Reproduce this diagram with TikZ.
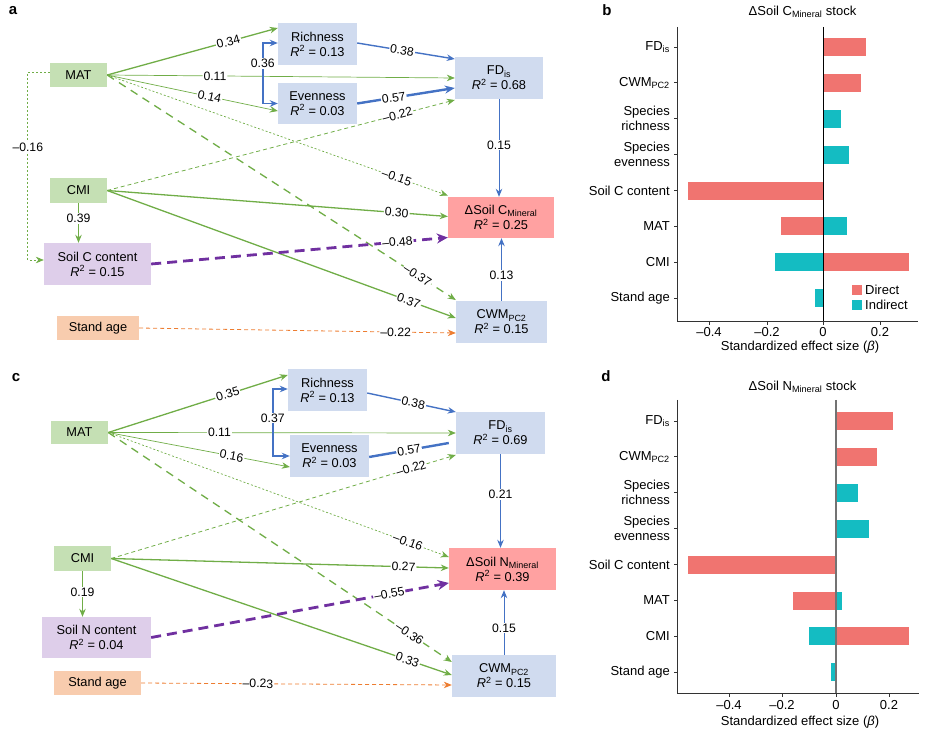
\documentclass[tikz,border=0pt]{standalone}
\usepackage{fontspec}
\usepackage{etoolbox}
\setmainfont{Liberation Sans}
\usetikzlibrary{arrows.meta,calc}
\definecolor{lgreen}{RGB}{112,173,71}
\definecolor{lblue}{RGB}{68,114,196}
\definecolor{lpurple}{RGB}{112,48,160}
\definecolor{lorange}{RGB}{237,125,49}
\definecolor{fgreen}{RGB}{197,224,180}
\definecolor{fblue}{RGB}{208,219,239}
\definecolor{fred}{RGB}{255,161,161}
\definecolor{fpurple}{RGB}{222,206,234}
\definecolor{forange}{RGB}{248,204,174}
\definecolor{bred}{RGB}{240,116,112}
\definecolor{bteal}{RGB}{20,188,194}
\newcommand\boxfnt{\fontsize{12.8}{15}\selectfont}
\newcommand\labfnt{\fontsize{12.2}{14}\selectfont}
\newcommand\barfnt{\fontsize{13}{15}\selectfont}
\newcommand\panfnt{\fontsize{15}{15}\selectfont\bfseries}
\newcommand\Rsq{\textit{R}\textsuperscript{2}}
\newcommand\lablist{}
% \edge[label style]{line style}{from}{to}{pos}{label}
\newcommand\edge[6][el]{\draw[#2] #3 -- #4;%
  \gappto\lablist{\path #3 -- #4 node[#1,pos=#5]{#6};}}
\tikzset{
  nbox/.style={inner sep=0pt, align=center, font=\boxfnt},
  gb/.style={nbox, fill=fgreen},
  bb/.style={nbox, fill=fblue},
  rb/.style={nbox, fill=fred},
  pb/.style={nbox, fill=fpurple},
  ob/.style={nbox, fill=forange},
  ar/.style={-{Stealth[length=8pt,width=6.5pt]}},
  gthick/.style={ar, draw=lgreen, line width=1.3pt},
  gthin/.style={ar, draw=lgreen, line width=0.7pt},
  gdot/.style={ar, draw=lgreen, line width=0.7pt, dash pattern=on 2pt off 2pt},
  gdash/.style={ar, draw=lgreen, line width=0.8pt, dash pattern=on 4pt off 3pt},
  gldash/.style={ar, draw=lgreen, line width=1.3pt, dash pattern=on 8pt off 6pt},
  pdash/.style={draw=lpurple, line width=2.8pt, dash pattern=on 10pt off 6pt, -{Stealth[length=11pt,width=10pt]}},
  odash/.style={ar, draw=lorange, line width=0.8pt, dash pattern=on 4pt off 3pt},
  bthin/.style={ar, draw=lblue, line width=0.9pt},
  bmed/.style={ar, draw=lblue, line width=1.4pt},
  bthick/.style={draw=lblue, line width=2.4pt, -{Stealth[length=10pt,width=8pt]}},
  bthickna/.style={draw=lblue, line width=2.4pt},
  el/.style={fill=white, inner sep=1pt, font=\labfnt, sloped},
  elh/.style={fill=white, inner sep=1pt, font=\labfnt},
  blab/.style={font=\barfnt, inner sep=0pt, anchor=east, align=right},
  tlab/.style={font=\barfnt, inner sep=0pt},
  axl/.style={draw=black!80, line width=0.9pt},
}
\begin{document}
\begin{tikzpicture}[x=1pt,y=-1pt]
\useasboundingbox (0,0) rectangle (930,735);

% ---------------- panel a ----------------
\node[font=\panfnt, inner sep=0pt] (La) at (13,11) {a};
\node[gb, minimum width=57pt, minimum height=24pt] (MATa) at (78.5,75) {MAT};
\node[gb, minimum width=57pt, minimum height=25pt] (CMIa) at (78.5,190.5) {CMI};
\node[pb, minimum width=107pt, minimum height=42pt] (SCa) at (97.5,264) {Soil C content\\\Rsq{} = 0.15};
\node[ob, minimum width=82pt, minimum height=24pt] (SAa) at (98,328) {Stand age};
\node[bb, minimum width=79pt, minimum height=42pt] (RIa) at (317.5,44) {Richness\\\Rsq{} = 0.13};
\node[bb, minimum width=79pt, minimum height=41pt] (EVa) at (317.5,103.5) {Evenness\\\Rsq{} = 0.03};
\node[bb, minimum width=88pt, minimum height=42pt] (FDa) at (499,78) {FD\textsubscript{is}\\\Rsq{} = 0.68};
\node[rb, minimum width=106pt, minimum height=41pt] (DSa) at (501,217.5) {ΔSoil C\textsubscript{Mineral}\\\Rsq{} = 0.25};
\node[bb, minimum width=91pt, minimum height=42pt] (CWa) at (501.5,322) {CWM\textsubscript{PC2}\\\Rsq{} = 0.15};

\edge{gthin}{(MATa.east)}{(FDa.west)}{0.31}{0.11}
\edge{gthin}{(MATa.east)}{([yshift=-7.5pt]EVa.west)}{0.6}{0.14}
\edge{gdot}{(MATa.east)}{([yshift=22pt]DSa.west)}{0.85}{--0.15}
\edge{gdash}{(CMIa.east)}{([yshift=-22pt]FDa.west)}{0.835}{--0.22}
\edge{gldash}{(MATa.east)}{([yshift=22pt]CWa.west)}{0.89}{--0.37}
\edge{gthick}{(CMIa.east)}{([yshift=1pt]DSa.west)}{0.85}{0.30}
\edge{gthick}{(CMIa.east)}{([yshift=4pt]CWa.west)}{0.865}{0.37}
\edge{pdash}{(SCa.east)}{([yshift=-20pt]DSa.west)}{0.83}{--0.48}
\edge{odash}{(SAa.east)}{([yshift=-11pt]CWa.west)}{0.81}{--0.22}
\edge{gthick}{(MATa.east)}{([yshift=16pt]RIa.west)}{0.71}{0.34}
\edge{bmed}{([yshift=1pt]RIa.east)}{([yshift=19pt]FDa.west)}{0.46}{0.38}
\edge{bthick}{(EVa.east)}{([yshift=-10pt]FDa.west)}{0.375}{0.57}
\edge[elh]{bthin}{(FDa.south)}{(FDa.south |- DSa.north)}{0.47}{0.15}
\edge[elh]{bthin}{(CWa.north)}{(CWa.north |- DSa.south)}{0.4}{0.13}
\edge[elh]{gthin, line width=1pt}{(CMIa.south)}{(CMIa.south |- SCa.north)}{0.38}{0.39}
\draw[draw=lblue, line width=1.4pt, {Stealth[length=8pt,width=6.5pt]}-{Stealth[length=8pt,width=6.5pt]}]
  ([yshift=1pt]RIa.west) -- ++(-15,0) |- (EVa.west) node[elh,pos=0.17]{0.36};
\draw[gdot] ([yshift=3pt]MATa.west) -- ++(-22,0) |- ([yshift=4pt]SCa.west) node[elh,pos=0.2]{--0.16};

% ---------------- panel c ----------------
\node[font=\panfnt, inner sep=0pt] (Lc) at (16,378) {c};
\node[gb, minimum width=57pt, minimum height=23pt] (MATc) at (79.5,432.5) {MAT};
\node[gb, minimum width=57pt, minimum height=25pt] (CMIc) at (82.5,558.5) {CMI};
\node[pb, minimum width=109pt, minimum height=41pt] (SNc) at (96.5,637.5) {Soil N content\\\Rsq{} = 0.04};
\node[ob, minimum width=87pt, minimum height=24pt] (SAc) at (97.5,683) {Stand age};
\node[bb, minimum width=79pt, minimum height=42pt] (RIc) at (327.5,390) {Richness\\\Rsq{} = 0.13};
\node[bb, minimum width=79pt, minimum height=42pt] (EVc) at (329.5,456) {Evenness\\\Rsq{} = 0.03};
\node[bb, minimum width=89pt, minimum height=42pt] (FDc) at (500.5,433) {FD\textsubscript{is}\\\Rsq{} = 0.69};
\node[rb, minimum width=107pt, minimum height=42pt] (DSc) at (502.5,569) {ΔSoil N\textsubscript{Mineral}\\\Rsq{} = 0.39};
\node[bb, minimum width=104pt, minimum height=42pt] (CWc) at (504,676) {CWM\textsubscript{PC2}\\\Rsq{} = 0.15};

\edge{gthin}{(MATc.east)}{(FDc.west)}{0.32}{0.11}
\edge{gthin}{(MATc.east)}{([yshift=-11pt]EVc.west)}{0.68}{0.16}
\edge{gdot}{(MATc.east)}{([yshift=12pt]DSc.west)}{0.88}{--0.16}
\edge{gdash}{(CMIc.east)}{([yshift=-22pt]FDc.west)}{0.87}{--0.22}
\edge{gldash}{(MATc.east)}{([yshift=14pt]CWc.west)}{0.877}{--0.36}
\edge{gthick}{(CMIc.east)}{([yshift=1pt]DSc.west)}{0.866}{0.27}
\edge{gthick}{(CMIc.east)}{([yshift=1pt]CWc.west)}{0.87}{0.33}
\edge{pdash}{(SNc.east)}{([yshift=-14pt]DSc.west)}{0.8}{--0.55}
\edge{odash}{(SAc.east)}{([yshift=-9pt]CWc.west)}{0.376}{--0.23}
\edge{gthick}{(MATc.east)}{([yshift=15pt]RIc.west)}{0.665}{0.35}
\edge{bmed}{([yshift=-3pt]RIc.east)}{([yshift=21pt]FDc.west)}{0.52}{0.38}
\edge{bthickna}{([yshift=-1pt]EVc.east)}{([shift={(-7pt,-10pt)}]FDc.west)}{0.5}{0.57}
\edge[elh]{bthin}{(FDc.south)}{(FDc.south |- DSc.north)}{0.43}{0.21}
\edge[elh]{bthin}{(CWc.north)}{(CWc.north |- DSc.south)}{0.415}{0.15}
\edge[elh]{gthin, line width=1pt}{(CMIc.south)}{(CMIc.south |- SNc.north)}{0.46}{0.19}
\draw[draw=lblue, line width=1.4pt, {Stealth[length=8pt,width=6.5pt]}-{Stealth[length=8pt,width=6.5pt]}]
  ([yshift=1pt]RIc.west) -- ++(-15,0) |- (EVc.west) node[elh,pos=0.217]{0.37};

% edge labels on top of all connectors
\lablist

% ---------------- panel b ----------------
\node[font=\panfnt, inner sep=0pt] (Lb) at (607,10) {b};
\node[tlab] (Tb) at (802.5,12) {ΔSoil C\textsubscript{Mineral} stock};
\fill[bred]  (823,38) rectangle (866,56);
\fill[bred]  (823,73.9) rectangle (861,91.9);
\fill[bteal] (823,109.8) rectangle (841,127.8);
\fill[bteal] (823,145.7) rectangle (849,163.7);
\fill[bred]  (688,181.6) rectangle (823,199.6);
\fill[bred]  (781,217.5) rectangle (823,235.5);
\fill[bteal] (823,217.5) rectangle (847,235.5);
\fill[bteal] (775,253.4) rectangle (823,271.4);
\fill[bred]  (823,253.4) rectangle (909,271.4);
\fill[bteal] (815,289.3) rectangle (823,307.3);
\draw[black, line width=1pt] (823,27) -- (823,321);
\draw[axl] (677,27) -- (677,321) -- (918,321);
\foreach \v/\t [count=\k] in {709/--0.4,767/--0.2,823/0,880/0.2}{
  \draw[axl] (\v,321) -- (\v,325);
  \node[tlab] (xb\k) at (\v,332) {\t};
}
\node[tlab] (Xb) at (800,347) {Standardized effect size (\textit{β})};
\foreach \yy in {47,82.9,118.8,154.7,190.6,226.5,262.4,298.3}{
  \draw[axl] (674,\yy) -- (677,\yy);
}
\node[blab] (b1) at (670,47) {FD\textsubscript{is}};
\node[blab] (b2) at (670,82.9) {CWM\textsubscript{PC2}};
\node[blab] (b3) at (670,118.8) {Species\\richness};
\node[blab] (b4) at (670,154.7) {Species\\evenness};
\node[blab] (b5) at (670,190.6) {Soil C content};
\node[blab] (b6) at (670,226.5) {MAT};
\node[blab] (b7) at (670,262.4) {CMI};
\node[blab] (b8) at (670,298.3) {Stand age};
\fill[bred] (852,285) rectangle (862,295);
\node[tlab, anchor=west] (lgd) at (865,290) {Direct};
\fill[bteal] (852,300) rectangle (862,310);
\node[tlab, anchor=west] (lgi) at (865,305) {Indirect};

% ---------------- panel d ----------------
\node[font=\panfnt, inner sep=0pt] (Ld) at (606,376) {d};
\node[tlab] (Td) at (802.5,387) {ΔSoil N\textsubscript{Mineral} stock};
\fill[bred]  (836,412) rectangle (893,430);
\fill[bred]  (836,447.9) rectangle (877,465.9);
\fill[bteal] (836,483.8) rectangle (858,501.8);
\fill[bteal] (836,519.7) rectangle (869,537.7);
\fill[bred]  (688,555.6) rectangle (836,573.6);
\fill[bred]  (793,591.5) rectangle (836,609.5);
\fill[bteal] (836,591.5) rectangle (842,609.5);
\fill[bteal] (809,627.4) rectangle (836,645.4);
\fill[bred]  (836,627.4) rectangle (909,645.4);
\fill[bteal] (831,663.3) rectangle (836,681.3);
\draw[black!55, line width=1.5pt] (836,400) -- (836,693);
\draw[axl] (677,400) -- (677,693) -- (919,693);
\foreach \v/\t [count=\k] in {729/--0.4,782/--0.2,836/0,889/0.2}{
  \draw[axl] (\v,693) -- (\v,697);
  \node[tlab] (xd\k) at (\v,705) {\t};
}
\node[tlab] (Xd) at (800,722) {Standardized effect size (\textit{β})};
\foreach \yy in {421,456.9,492.8,528.7,564.6,600.5,636.4,672.3}{
  \draw[axl] (674,\yy) -- (677,\yy);
}
\node[blab] (d1) at (670,421) {FD\textsubscript{is}};
\node[blab] (d2) at (670,456.9) {CWM\textsubscript{PC2}};
\node[blab] (d3) at (670,492.8) {Species\\richness};
\node[blab] (d4) at (670,528.7) {Species\\evenness};
\node[blab] (d5) at (670,564.6) {Soil C content};
\node[blab] (d6) at (670,600.5) {MAT};
\node[blab] (d7) at (670,636.4) {CMI};
\node[blab] (d8) at (670,672.3) {Stand age};
\end{tikzpicture}
\end{document}
